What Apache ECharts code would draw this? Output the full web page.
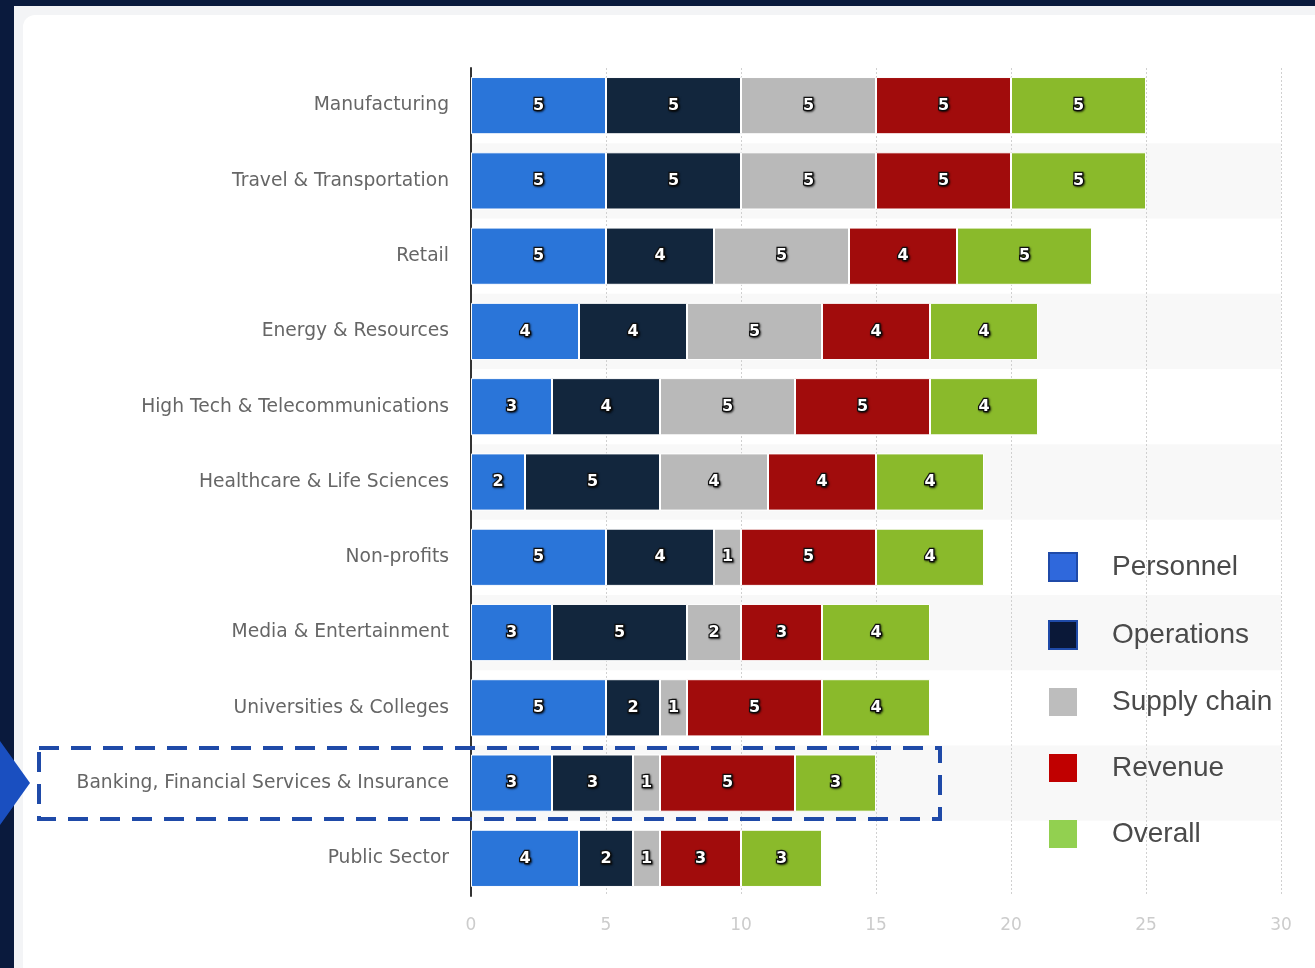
<!DOCTYPE html>
<html>
<head>
<meta charset="utf-8">
<script src="https://cdn.jsdelivr.net/npm/echarts@6/dist/echarts.min.js"></script>
<style>
html,body{margin:0;padding:0;width:1315px;height:968px;overflow:hidden;background:#0a1a3d;}
#outer{position:absolute;left:14px;top:6px;right:0;bottom:0;background:#f3f4f6;}
#inner{position:absolute;left:9px;top:9px;right:0;bottom:0;background:#fff;border-top-left-radius:12px;}
#chart{position:absolute;left:0;top:0;width:1315px;height:968px;}
</style>
</head>
<body>
<div id="outer"><div id="inner"></div></div>
<div id="chart"></div>
<script>
const categories = ["Manufacturing","Travel & Transportation","Retail","Energy & Resources","High Tech & Telecommunications","Healthcare & Life Sciences","Non-profits","Media & Entertainment","Universities & Colleges","Banking, Financial Services & Insurance","Public Sector"];
const personnel   = [5,5,5,4,3,2,5,3,5,3,4];
const operations  = [5,5,4,4,4,5,4,5,2,3,2];
const supplyChain = [5,5,5,5,5,4,1,2,1,1,1];
const revenue     = [5,5,4,4,5,4,5,3,5,5,3];
const overall     = [5,5,5,4,4,4,4,4,4,3,3];
const xTicks = [0,5,10,15,20,25,30];
const highlightCategory = "Banking, Financial Services & Insurance";

const seriesNames = ["Personnel","Operations","Supply chain","Revenue","Overall"];
const seriesData = [personnel, operations, supplyChain, revenue, overall];
const barColors = ["#2a75d9","#12263d","#b9b9b9","#a10c0c","#8aba2b"];
const legendColors = ["#2f68dc","#0a1838","#bdbdbd","#c00000","#92d050"];
const legendBorders = ["#1f4aa8","#1f4aa8",null,null,null];

const chart = echarts.init(document.getElementById('chart'));
const option = {
  animation:false,
  backgroundColor:'transparent',
  grid:{left:471,right:34,top:68,bottom:72,containLabel:false},
  legend:{
    orient:'vertical',
    left:1043, top:547,
    itemWidth:28, itemHeight:28, itemGap:38,
    icon:'rect',
    textStyle:{fontFamily:'Liberation Sans, Arial, sans-serif',fontSize:28,color:'#4a4a4a',padding:[0,0,0,30]},
    data: seriesNames.map((n,i)=>({name:n, itemStyle:{color:legendColors[i], borderColor:legendBorders[i]||legendColors[i], borderWidth:legendBorders[i]?2:0}}))
  },
  xAxis:{
    type:'value', min:xTicks[0], max:xTicks[xTicks.length-1], interval:5,
    axisLine:{show:false}, axisTick:{show:false},
    axisLabel:{color:'#cccccc',fontSize:17,fontFamily:'DejaVu Sans, sans-serif',margin:21},
    splitLine:{show:true,lineStyle:{color:'#d0d0d0',type:[2,2],width:1}}
  },
  yAxis:{
    type:'category', data:categories, inverse:true,
    axisLine:{show:true,lineStyle:{color:'#333',width:2}},
    axisTick:{show:false},
    axisLabel:{color:'#666',fontSize:18.7,fontFamily:'DejaVu Sans, sans-serif',margin:22},
    splitArea:{show:true,areaStyle:{color:['rgba(255,255,255,0)','#f8f8f8']}}
  },
  series: seriesNames.map((n,i)=>({
    name:n, type:'bar', stack:'total', barCategoryGap:'24%',
    data:seriesData[i],
    itemStyle:{color:barColors[i], borderColor:'#fff', borderWidth:1},
    label:{show:true,position:'inside',color:'#fff',fontSize:16,fontWeight:'bold',
      fontFamily:'DejaVu Sans, sans-serif',textBorderColor:'#111',textBorderWidth:2.5,
      textShadowColor:'rgba(0,0,0,0.6)',textShadowBlur:2,textShadowOffsetX:1,textShadowOffsetY:1}
  }))
};
chart.setOption(option);

const cy = chart.convertToPixel({yAxisIndex:0}, highlightCategory);
chart.setOption({
  graphic:[
    {type:'rect', shape:{x:39,y:cy-35,width:901,height:71},
      style:{fill:'none',stroke:'#1f4aa8',lineWidth:4,lineDash:[20,12]}, z:100},
    {type:'polygon', shape:{points:[[0,cy-42],[30,cy],[0,cy+42]]},
      style:{fill:'#1a4fc0'}, z:100}
  ]
});
</script>
</body>
</html>
